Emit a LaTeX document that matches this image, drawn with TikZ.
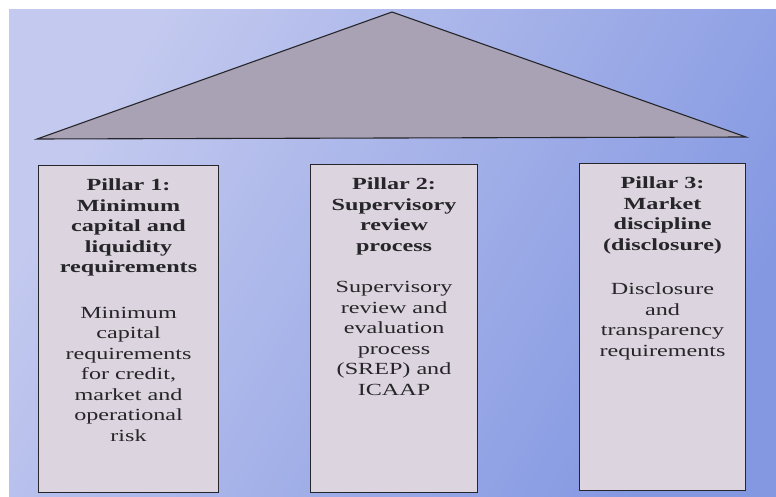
\documentclass[tikz,border=0pt]{standalone}
\usepackage{fontspec}
\setmainfont{Liberation Serif}[FakeStretch=1.42]
\usetikzlibrary{positioning}

\definecolor{bglight}{HTML}{C4CAEF}
\definecolor{bgdark}{HTML}{8498E2}
\definecolor{roofgray}{HTML}{A9A1B4}
\definecolor{pillarfill}{HTML}{DCD4DE}
\definecolor{inkgray}{HTML}{26262A}

\begin{document}
\begin{tikzpicture}[x=1pt,y=-1pt,
    pillar/.style ={draw=inkgray, line width=1.1pt, fill=pillarfill,
                    inner sep=0pt, anchor=north west},
    pillartext/.style ={align=center, text=inkgray, inner sep=0pt,
                    font=\fontsize{17}{20.5}\selectfont}]
   \useasboundingbox (0,0) rectangle (776,497);
   \fill[white] (0,0) rectangle (776,497);
   \shade[top color=bglight, bottom color=bgdark, shading angle=60]
      (9,10) rectangle (776,497);

   % roof
   \coordinate (eaveL) at (37,139);
   \coordinate (ridge) at (392,12);
   \coordinate (eaveR) at (746,137);
   \filldraw[fill=roofgray, draw=inkgray, line width=1.1pt]
      (eaveL) -- (ridge) -- (eaveR) -- cycle;

   % pillars
   \node[pillar, minimum width=180pt, minimum height=327pt] (P1) at (38,165) {};
   \node[pillar, minimum width=167pt, minimum height=328pt] (P2) at (310,164) {};
   \node[pillar, minimum width=166pt, minimum height=327pt] (P3) at (579,163) {};

   \node[pillartext, below=14pt of P1.north] (T1)
      {\textbf{Pillar 1:}\\ \textbf{Minimum}\\ \textbf{capital and}\\
       \textbf{liquidity}\\ \textbf{requirements}\\[25pt]
       Minimum\\ capital\\ requirements\\ for credit,\\ market and\\
       operational\\ risk};
   \node[pillartext, below=14pt of P2.north] (T2)
      {\textbf{Pillar 2:}\\ \textbf{Supervisory}\\ \textbf{review}\\
       \textbf{process}\\[21pt]
       Supervisory\\ review and\\ evaluation\\ process\\ (SREP) and\\ ICAAP};
   \node[pillartext, below=14pt of P3.north] (T3)
      {\textbf{Pillar 3:}\\ \textbf{Market}\\ \textbf{discipline}\\
       \textbf{(disclosure)}\\[24pt]
       Disclosure\\ and\\ transparency\\ requirements};
\end{tikzpicture}
\end{document}
